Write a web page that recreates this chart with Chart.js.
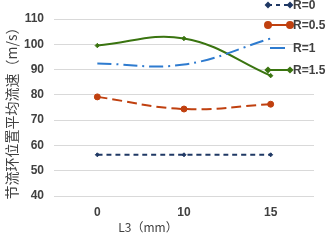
<!DOCTYPE html>
<html>
<head>
<meta charset="utf-8">
<script src="https://cdn.jsdelivr.net/npm/chart.js@4.4.0/dist/chart.umd.min.js"></script>
<style>
  html, body { margin: 0; padding: 0; background: #fff; }
  #wrap { width: 330px; height: 240px; position: relative; }
</style>
</head>
<body>
<div id="wrap"><canvas id="chart"></canvas></div>
<script>
const categories = ['0', '10', '15'];
const seriesNames = ['R=0', 'R=0.5', 'R=1', 'R=1.5'];
const r0 = [56.3, 56.3, 56.3];
const r05 = [79.2, 74.4, 76.3];
const r1 = [92.4, 92.0, 102.3];
const r15 = [99.5, 102.3, 87.6];
const yTicks = [40, 50, 60, 70, 80, 90, 100, 110];
const yTitle = '节流环位置平均流速（m/s）';
const xTitle = 'L3（mm）';

const textColor = '#404040';
const tickFont = { family: 'Liberation Sans', size: 12, weight: 'bold' };

const styles = [
  { color: '#1F3864', dash: [5, 4], point: 'rectRot', radius: 2 },
  { color: '#C0400F', dash: [10, 5], point: 'circle', radius: 3 },
  { color: '#2E7BCF', dash: [14, 5, 2, 5], point: 'circle', radius: 0 },
  { color: '#3A7410', dash: [], point: 'rectRot', radius: 2.2 }
];
const values = [r0, r05, r1, r15];

// legend + axis titles drawn onto the canvas
const extras = {
  id: 'extras',
  afterDraw(chart) {
    const ctx = chart.ctx;
    ctx.save();
    ctx.fillStyle = textColor;

    ctx.font = '14px "Noto Sans CJK SC"';
    ctx.textAlign = 'center';
    ctx.textBaseline = 'middle';
    ctx.save();
    ctx.translate(12, 110);
    ctx.rotate(-Math.PI / 2);
    ctx.fillText(yTitle, 0, 0);
    ctx.restore();

    ctx.font = '12px "Noto Sans CJK SC"';
    ctx.fillText(xTitle, 148, 227);

    const rows = [5, 25, 48, 70];
    ctx.font = 'bold 12px "Liberation Sans"';
    ctx.textAlign = 'left';
    seriesNames.forEach((name, i) => {
      const s = styles[i];
      const y = rows[i];
      const x1 = i === 2 ? 270 : 268, x2 = i === 2 ? 285 : 290;
      ctx.strokeStyle = s.color;
      ctx.lineWidth = 2;
      ctx.setLineDash(i === 0 ? [4, 4] : []);
      ctx.beginPath();
      ctx.moveTo(x1, y);
      ctx.lineTo(x2, y);
      ctx.stroke();
      ctx.setLineDash([]);
      if (s.radius > 0) {
        ctx.fillStyle = s.color;
        [x1, x2].forEach(px => {
          Chart.helpers.drawPoint(ctx, { pointStyle: s.point, radius: s.radius, borderWidth: 1 }, px, y);
        });
      }
      ctx.fillStyle = textColor;
      ctx.fillText(name, 293, y + 1);
    });
    ctx.restore();
  }
};

new Chart(document.getElementById('chart'), {
  type: 'line',
  data: {
    labels: categories,
    datasets: seriesNames.map((name, i) => ({
      label: name,
      data: values[i],
      borderColor: styles[i].color,
      backgroundColor: styles[i].color,
      borderWidth: 2,
      borderDash: styles[i].dash,
      pointStyle: styles[i].point,
      pointRadius: styles[i].radius,
      pointBorderWidth: 1,
      tension: 0.4
    }))
  },
  options: {
    responsive: true,
    maintainAspectRatio: false,
    animation: false,
    layout: { padding: { left: 0, right: 16, top: 19, bottom: 0 } },
    plugins: {
      legend: { display: false },
      tooltip: { enabled: false }
    },
    scales: {
      x: {
        offset: true,
        grid: { display: false, drawTicks: false },
        border: { display: false },
        ticks: { color: textColor, font: tickFont, padding: 9 },
        afterFit: (scale) => { scale.height = 44; }
      },
      y: {
        min: 40,
        max: 110,
        afterBuildTicks: (scale) => { scale.ticks = yTicks.map(v => ({ value: v })); },
        grid: { color: '#D9D9D9', lineWidth: 1, drawTicks: false },
        border: { display: false },
        ticks: { color: textColor, font: tickFont, padding: 10 },
        afterFit: (scale) => { scale.width = 54; }
      }
    }
  },
  plugins: [extras]
});
</script>
</body>
</html>
